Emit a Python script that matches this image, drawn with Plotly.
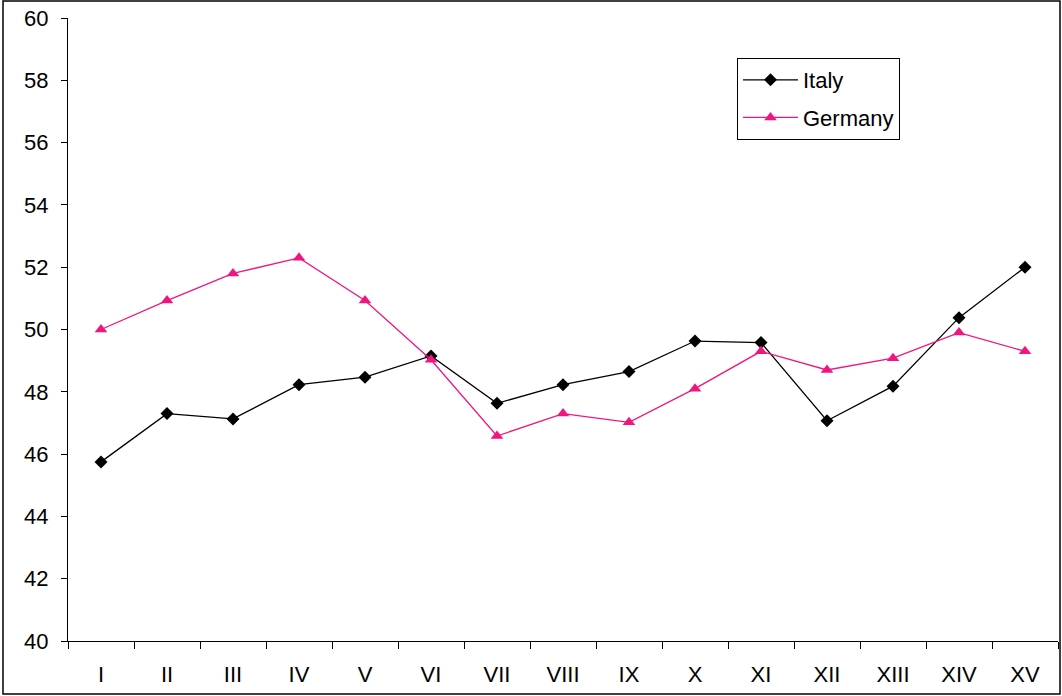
import plotly.graph_objects as go

categories = ["I", "II", "III", "IV", "V", "VI", "VII", "VIII", "IX", "X", "XI", "XII", "XIII", "XIV", "XV"]
italy = [45.75, 47.3, 47.13, 48.23, 48.47, 49.15, 47.63, 48.23, 48.65, 49.63, 49.58, 47.07, 48.18, 50.38, 52.0]
germany = [50.0, 50.93, 51.8, 52.3, 50.93, 49.03, 46.58, 47.3, 47.02, 48.1, 49.3, 48.7, 49.08, 49.9, 49.3]

W, H = 1062, 696
L, R, T, B = 68, 1058, 18, 641
pw, ph = R - L, B - T

fig = go.Figure()
fig.add_trace(go.Scatter(x=categories, y=italy, name="Italy", mode="lines+markers",
                         legendgroup="a",
                         line=dict(color="black", width=1.3),
                         marker=dict(symbol="diamond", size=10, color="black")))
fig.add_trace(go.Scatter(x=categories, y=germany, name="Germany", mode="lines+markers",
                         legendgroup="b",
                         line=dict(color="#F0167F", width=1.3),
                         marker=dict(symbol="triangle-up", size=11, color="#F0167F")))

fig.update_layout(
    width=W, height=H,
    margin=dict(l=L, r=W - R, t=T, b=H - B, pad=0, autoexpand=False),
    paper_bgcolor="white", plot_bgcolor="white",
    font=dict(family="Liberation Sans, Arial, sans-serif", size=22, color="black"),
    showlegend=True,
    legend=dict(x=(737 - L) / pw, y=(B - 58) / ph, xanchor="left", yanchor="top",
                bordercolor="black", borderwidth=1, bgcolor="white",
                font=dict(size=22), traceorder="grouped", tracegroupgap=6,
                itemwidth=55),
)
fig.update_xaxes(type="category", tickson="boundaries", ticks="outside", ticklen=7,
                 tickcolor="black", showline=True, linecolor="black", linewidth=1,
                 showgrid=False, zeroline=False, ticklabelstandoff=14, automargin=False,
                 range=[-0.5, len(categories) - 0.5])
fig.update_yaxes(range=[40, 60], dtick=2, ticks="outside", ticklen=6, tickcolor="black",
                 showline=True, linecolor="black", linewidth=1, showgrid=False,
                 zeroline=False, ticklabelstandoff=8, automargin=False)

fig.add_shape(type="rect", xref="paper", yref="paper",
              x0=(3 - L) / pw, x1=(1060 - L) / pw,
              y0=(B - 694) / ph, y1=(B - 1) / ph,
              line=dict(color="black", width=1.5), fillcolor="rgba(0,0,0,0)", layer="below")

fig.write_html("out.html", config={"displayModeBar": False},
               post_script="document.body.style.margin='0';document.body.style.overflow='hidden';")
